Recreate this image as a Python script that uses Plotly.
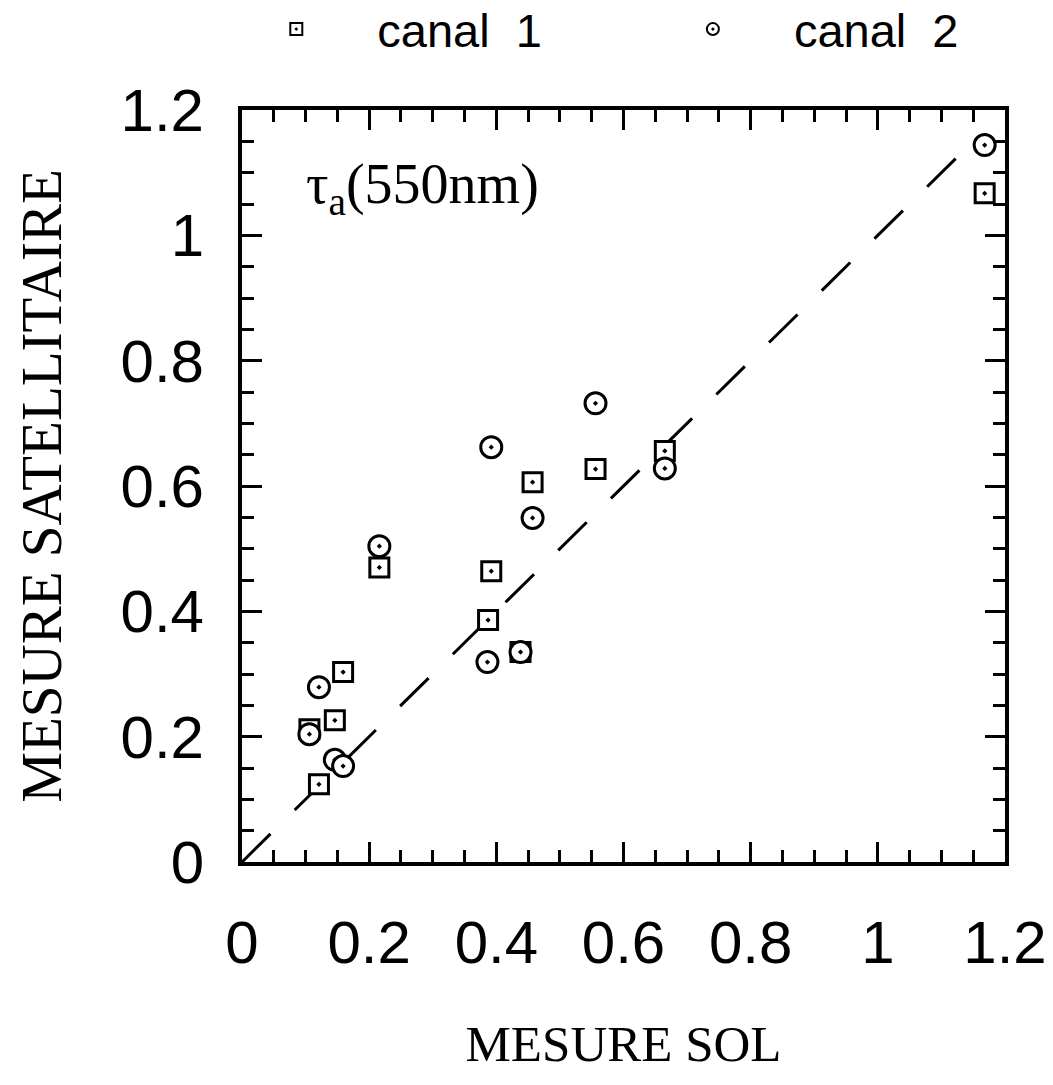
import plotly.graph_objects as go

canal1_x = [0.106, 0.121, 0.146, 0.159, 0.216, 0.387, 0.392, 0.438, 0.457, 0.556, 0.665, 1.168]
canal1_y = [0.212, 0.124, 0.226, 0.303, 0.470, 0.386, 0.464, 0.335, 0.606, 0.627, 0.656, 1.067]
canal2_x = [0.106, 0.121, 0.146, 0.159, 0.216, 0.386, 0.392, 0.438, 0.457, 0.556, 0.665, 1.168]
canal2_y = [0.204, 0.279, 0.163, 0.153, 0.504, 0.319, 0.662, 0.335, 0.549, 0.732, 0.628, 1.144]
line_x = [0.0, 1.15]
tick_vals = [0, 0.2, 0.4, 0.6, 0.8, 1.0, 1.2]
tick_text = ["0", "0.2", "0.4", "0.6", "0.8", "1", "1.2"]

fig = go.Figure()
fig.add_trace(go.Scatter(x=line_x, y=line_x, mode="lines", showlegend=False,
                         line=dict(color="black", width=3, dash="40px,34px")))
fig.add_trace(go.Scatter(x=canal1_x, y=canal1_y, mode="markers", name="canal  1",
                         legend="legend",
                         marker=dict(symbol="square-dot", size=19, color="white",
                                     line=dict(color="black", width=3))))
fig.add_trace(go.Scatter(x=canal2_x, y=canal2_y, mode="markers", name="canal  2",
                         legend="legend2",
                         marker=dict(symbol="circle-dot", size=21, color="white",
                                     line=dict(color="black", width=3))))

tick_font = dict(family="Liberation Sans", size=60, color="black")
axis_common = dict(range=[0, 1.2], tickvals=tick_vals, ticktext=tick_text,
                   ticks="inside", ticklen=20, tickwidth=3, tickcolor="black",
                   showline=True, linewidth=4, linecolor="black", mirror="ticks",
                   showgrid=False, zeroline=False, automargin=False,
                   tickfont=tick_font,
                   minor=dict(dtick=0.05, ticks="inside", ticklen=12, tickwidth=3,
                              tickcolor="black", showgrid=False))

fig.update_xaxes(**axis_common, ticklabelstandoff=25,
                 title=dict(text="MESURE SOL", standoff=51,
                            font=dict(family="Liberation Serif", size=51, color="black")))
fig.update_yaxes(**axis_common, ticklabelstandoff=22,
                 title=dict(text="MESURE SATELLITAIRE", standoff=42,
                            font=dict(family="Liberation Serif", size=57, color="black")))

fig.add_annotation(x=0.098, y=1.075, xref="x", yref="y", xanchor="left", yanchor="middle",
                   showarrow=False, text="τ<sub>a</sub>(550nm)",
                   font=dict(family="Liberation Serif", size=56, color="black"))

legend_common = dict(orientation="h", yref="paper", y=1.107, xanchor="left",
                     yanchor="middle", itemwidth=152, itemsizing="constant",
                     entrywidth=200,
                     bgcolor="rgba(0,0,0,0)",
                     font=dict(family="Liberation Sans", size=47, color="black"))

fig.update_layout(width=1045, height=1077, plot_bgcolor="white", paper_bgcolor="white",
                  margin=dict(l=234, r=48, t=102, b=223, autoexpand=False),
                  legend=dict(x=-0.035, **legend_common),
                  legend2=dict(x=0.511, **legend_common))

fig.write_html("out.html")
